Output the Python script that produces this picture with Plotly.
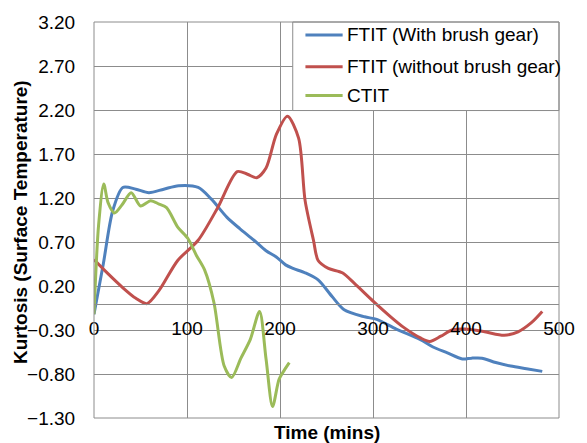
import plotly.graph_objects as go

# Data
blue_x = [0, 10, 20, 31, 45, 59, 75, 91, 112, 126, 143, 157, 172, 185, 196, 206, 214, 227, 241, 256, 269, 291, 304, 325, 351, 364, 380, 396, 406, 417, 432, 448, 465, 482]
blue_y = [-0.12, 0.45, 1.05, 1.32, 1.30, 1.26, 1.30, 1.34, 1.32, 1.19, 0.98, 0.85, 0.72, 0.60, 0.53, 0.44, 0.40, 0.35, 0.27, 0.08, -0.07, -0.15, -0.18, -0.29, -0.41, -0.49, -0.56, -0.63, -0.62, -0.62, -0.67, -0.71, -0.74, -0.77]

red_x = [0, 15, 30, 45, 57, 70, 90, 112, 133, 154, 165, 175, 185, 196, 208, 220, 227, 236, 241, 252, 267, 280, 301, 319, 333, 351, 361, 373, 385, 399, 420, 441, 456, 470, 482]
red_y = [0.50, 0.34, 0.19, 0.06, 0.00, 0.15, 0.49, 0.72, 1.09, 1.50, 1.47, 1.43, 1.54, 1.92, 2.13, 1.88, 1.17, 0.72, 0.49, 0.40, 0.35, 0.23, 0.02, -0.15, -0.27, -0.39, -0.43, -0.37, -0.30, -0.29, -0.32, -0.36, -0.32, -0.22, -0.09]

green_x = [0, 5, 10.5, 15, 22, 30, 40, 50, 61, 70, 78, 90, 101, 110, 119, 129, 140, 148, 158, 168, 178, 185, 192, 199, 205, 210]
green_y = [-0.12, 0.90, 1.36, 1.15, 1.03, 1.12, 1.26, 1.11, 1.17, 1.13, 1.09, 0.87, 0.74, 0.55, 0.38, 0.01, -0.71, -0.84, -0.62, -0.41, -0.09, -0.63, -1.17, -0.86, -0.75, -0.67]

series_names = ["FTIT (With brush gear)", "FTIT (without brush gear)", "CTIT"]
series_colors = ["#4F81BD", "#C0504D", "#9BBB59"]

y_ticks = [-1.3, -0.8, -0.3, 0.2, 0.7, 1.2, 1.7, 2.2, 2.7, 3.2]
x_ticks = [0, 100, 200, 300, 400, 500]

FONT = "Liberation Sans, Arial, sans-serif"
GRID = "#8C8C8C"
FS = 19

fig = go.Figure()
for xs, ys, name, col in zip([blue_x, red_x, green_x], [blue_y, red_y, green_y], series_names, series_colors):
    fig.add_trace(go.Scatter(x=xs, y=ys, mode="lines", name=name, showlegend=False,
                             line=dict(color=col, width=3, shape="spline", smoothing=0.8)))

ymin, ymax = -1.3, 3.2
zero_pos = (0 - ymin) / (ymax - ymin)

# Manual legend (paper coordinates of the plot area)
leg_x0, leg_x1, leg_y0, leg_y1 = 0.4274, 1.0, 0.7764, 1.0
leg_rows = [0.9673, 0.8869, 0.8141]
line_x0, line_x1, text_x = 0.4547, 0.5347, 0.5389

shapes = [dict(type="rect", xref="paper", yref="paper", x0=leg_x0, x1=leg_x1, y0=leg_y0, y1=leg_y1,
               fillcolor="white", line=dict(color=GRID, width=1), layer="above")]
annotations = []
for name, col, yy in zip(series_names, series_colors, leg_rows):
    shapes.append(dict(type="line", xref="paper", yref="paper", x0=line_x0, x1=line_x1, y0=yy, y1=yy,
                       line=dict(color=col, width=3), layer="above"))
    annotations.append(dict(text=name, xref="paper", yref="paper", x=text_x, y=yy, xanchor="left",
                            yanchor="middle", showarrow=False, font=dict(size=FS, family=FONT, color="black")))

shapes.append(dict(type="rect", xref="paper", yref="paper", x0=0, x1=1, y0=0, y1=1,
                   line=dict(color=GRID, width=1), layer="above"))

annotations += [
    dict(text="<b>Time (mins)</b>", xref="paper", yref="paper", x=0.5, y=-0.005,
         xanchor="center", yanchor="top", showarrow=False, font=dict(size=FS, family=FONT)),
    dict(text="<b>Kurtosis (Surface Temperature)</b>", xref="paper", yref="paper",
         x=-0.157, y=0.495, xanchor="center", yanchor="middle", textangle=-90,
         showarrow=False, font=dict(size=FS, family=FONT)),
]

fig.update_layout(
    width=587, height=443,
    margin=dict(l=94, r=18, t=20, b=25),
    paper_bgcolor="white", plot_bgcolor="white",
    font=dict(family=FONT, size=FS, color="black"),
    showlegend=False,
    xaxis=dict(range=[0, 500], tickvals=x_ticks, showgrid=True, gridcolor=GRID, gridwidth=1,
               zeroline=False, showline=True, linecolor=GRID, linewidth=1,
               anchor="free", position=zero_pos,
               ticks="outside", ticklen=8, tickcolor="rgba(0,0,0,0)",
               tickfont=dict(size=FS, family=FONT)),
    yaxis=dict(range=[ymin, ymax], tickvals=y_ticks, tickformat=".2f",
               showgrid=True, gridcolor=GRID, gridwidth=1, zeroline=False,
               showline=False, ticks="outside", ticklen=14, tickcolor="rgba(0,0,0,0)",
               tickfont=dict(size=FS, family=FONT)),
    shapes=shapes,
    annotations=annotations,
)

fig.write_html("out.html")
